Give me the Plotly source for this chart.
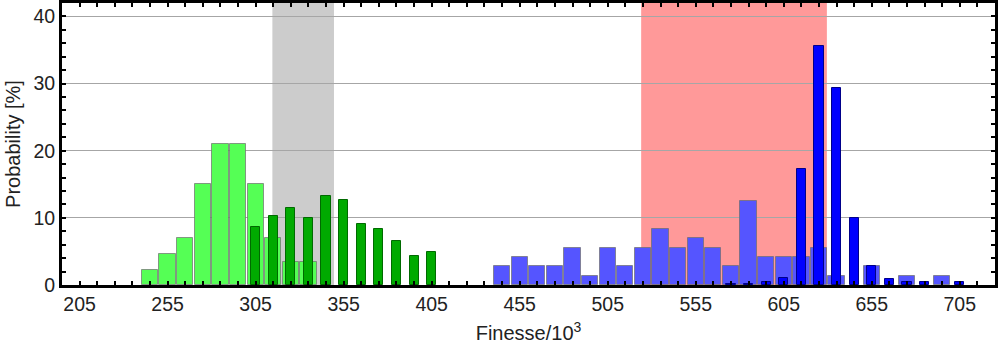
import plotly.graph_objects as go

# ---- data ----
green_light_x = [245, 255, 265, 275, 285, 295, 305, 315, 325, 335]
green_light_y = [2.25, 4.6, 6.95, 15.1, 20.95, 20.95, 15.1, 6.95, 3.4, 3.4]

green_dark_x = [305, 315, 325, 335, 345, 355, 365, 375, 385, 395, 405]
green_dark_y = [8.6, 10.35, 11.45, 10.05, 13.2, 12.6, 9.15, 8.3, 6.6, 4.25, 4.85]

blue_light_x = [445, 455, 465, 475, 485, 495, 505, 515, 525, 535, 545, 555,
                565, 575, 585, 595, 605, 615, 625, 635, 655, 675, 695]
blue_light_y = [2.78, 4.17, 2.78, 2.78, 5.56, 1.39, 5.56, 2.78, 5.56, 8.33, 5.56, 6.94,
                5.56, 2.78, 12.5, 4.17, 4.17, 4.17, 5.56, 1.39, 2.78, 1.39, 1.39]

blue_dark_x = [575, 585, 595, 605, 615, 625, 635, 645, 655, 665, 675, 685, 705]
blue_dark_y = [0.1, 0.15, 0.5, 1.1, 17.25, 35.6, 29.4, 9.95, 2.9, 0.9, 0.5, 0.4, 0.4]

gray_band = [314.5, 349.5]
red_band = [524.0, 629.5]

x_range = [195, 725]
y_range = [0, 42]
x_tick_vals = [205, 255, 305, 355, 405, 455, 505, 555, 605, 655, 705]
y_tick_vals = [0, 10, 20, 30, 40]

# ---- figure ----
FONT = "Liberation Sans, Arial, sans-serif"
fig = go.Figure()

light_w = 9.25
dark_w = 5.2

fig.add_trace(go.Bar(x=green_light_x, y=green_light_y, width=[light_w] * len(green_light_x),
                     marker=dict(color="#55ff55", line=dict(color="rgba(110,110,110,0.7)", width=1)),
                     showlegend=False))
fig.add_trace(go.Bar(x=green_dark_x, y=green_dark_y, width=[dark_w] * len(green_dark_x),
                     marker=dict(color="#00aa00", line=dict(color="#006a00", width=1)),
                     showlegend=False))
fig.add_trace(go.Bar(x=blue_light_x, y=blue_light_y, width=[light_w] * len(blue_light_x),
                     marker=dict(color="#5555ff", line=dict(color="rgba(110,110,110,0.7)", width=1)),
                     showlegend=False))
fig.add_trace(go.Bar(x=blue_dark_x, y=blue_dark_y, width=[dark_w] * len(blue_dark_x),
                     marker=dict(color="#0000ff", line=dict(color="#00008a", width=1)),
                     showlegend=False))

fig.add_shape(type="rect", xref="x", yref="paper", x0=gray_band[0], x1=gray_band[1],
              y0=0, y1=1, fillcolor="#cccccc", line=dict(width=0), layer="below")
fig.add_shape(type="rect", xref="x", yref="paper", x0=red_band[0], x1=red_band[1],
              y0=0, y1=1, fillcolor="#ff9999", line=dict(width=0), layer="below")

fig.update_layout(
    width=998, height=349,
    margin=dict(l=62, r=0, t=3, b=64),
    barmode="overlay",
    bargap=0,
    plot_bgcolor="white",
    paper_bgcolor="white",
    font=dict(family=FONT, size=19, color="#222222"),
)

fig.update_xaxes(
    range=x_range,
    tickmode="array", tickvals=x_tick_vals, ticktext=[str(v) for v in x_tick_vals],
    ticks="inside", ticklen=4, tickwidth=2, tickcolor="black",
    minor=dict(dtick=10, tick0=205, ticks="inside", ticklen=4, tickwidth=2, tickcolor="black", showgrid=False),
    showline=True, linecolor="black", linewidth=3, mirror="allticks",
    showgrid=False, zeroline=False,
    tickfont=dict(size=19.5, color="#222222"),
    title=dict(text="Finesse/10<sup>3</sup>", font=dict(size=20, color="#222222"), standoff=12),
)
fig.update_yaxes(
    range=y_range,
    tickmode="array", tickvals=y_tick_vals, ticktext=[str(v) for v in y_tick_vals],
    ticks="inside", ticklen=4, tickwidth=2, tickcolor="black",
    minor=dict(dtick=2, tick0=0, ticks="inside", ticklen=4, tickwidth=2, tickcolor="black", showgrid=False),
    showline=True, linecolor="black", linewidth=3, mirror="allticks",
    showgrid=True, gridcolor="#a6a6a6", gridwidth=1, zeroline=False,
    tickfont=dict(size=19.5, color="#222222"),
    title=dict(text="Probability [%]", font=dict(size=20, color="#222222"), standoff=8),
)

fig.write_html("out.html")
